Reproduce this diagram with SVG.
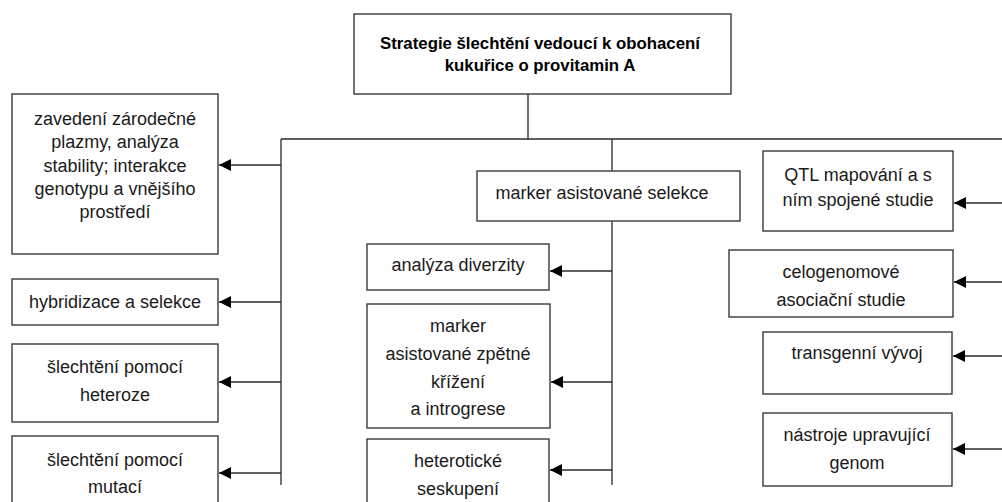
<svg xmlns="http://www.w3.org/2000/svg" width="1002" height="502" viewBox="0 0 1002 502">
<defs>
<marker id="ah" markerUnits="userSpaceOnUse" markerWidth="13" markerHeight="12" refX="12" refY="6" orient="auto">
<path d="M0,0 L12,6 L0,12 z" fill="#000"/>
</marker>
<style>
.box{fill:#fff;stroke:#3a3a3a;stroke-width:1.4}
.t{font-family:"Liberation Sans",Arial,sans-serif;font-size:18px;fill:#1a1a1a;text-anchor:middle}
.tb{font-family:"Liberation Sans",Arial,sans-serif;font-size:16.8px;font-weight:bold;fill:#000;text-anchor:middle}
.ln{fill:none;stroke:#2a2a2a;stroke-width:1.3}
.ar{fill:none;stroke:#2a2a2a;stroke-width:1.3;marker-end:url(#ah)}
</style>
</defs>
<rect width="1002" height="502" fill="#fff"/>
<g id="connectors">
<path class="ln" d="M528,94 V139 M281,139 H1002 M281,139 V485 M612,139 V171 M612,221 V485"/>
<path class="ar" d="M281,165 H219"/>
<path class="ar" d="M281,302 H219"/>
<path class="ar" d="M281,382 H219"/>
<path class="ar" d="M281,473 H219"/>
<path class="ar" d="M612,271 H550"/>
<path class="ar" d="M612,382 H551"/>
<path class="ar" d="M612,470 H550"/>
<path class="ar" d="M1002,203 H954"/>
<path class="ar" d="M1002,282 H954"/>
<path class="ar" d="M1002,356 H953"/>
<path class="ar" d="M1002,449 H953"/>
</g>
<g id="root">
<rect class="box" x="354" y="14" width="377" height="80"/>
<text class="tb" x="540" y="49">Strategie šlechtění vedoucí k obohacení</text>
<text class="tb" x="540" y="71">kukuřice o provitamin A</text>
</g>
<g id="n-zavedeni">
<rect class="box" x="12" y="94" width="206" height="160"/>
<text class="t" x="115" y="125">zavedení zárodečné</text>
<text class="t" x="115" y="148">plazmy, analýza</text>
<text class="t" x="115" y="172">stability; interakce</text>
<text class="t" x="115" y="195">genotypu a vnějšího</text>
<text class="t" x="115" y="218">prostředí</text>
</g>
<g id="n-hybridizace">
<rect class="box" x="12" y="279" width="206" height="46"/>
<text class="t" x="115" y="308">hybridizace a selekce</text>
</g>
<g id="n-heteroze">
<rect class="box" x="12" y="344" width="206" height="78"/>
<text class="t" x="115" y="373">šlechtění pomocí</text>
<text class="t" x="115" y="401">heteroze</text>
</g>
<g id="n-mutace">
<rect class="box" x="12" y="436" width="206" height="80"/>
<text class="t" x="115" y="466">šlechtění pomocí</text>
<text class="t" x="115" y="493">mutací</text>
</g>
<g id="n-mas">
<rect class="box" x="477" y="171" width="263" height="50"/>
<text class="t" x="602" y="199">marker asistované selekce</text>
</g>
<g id="n-diverzita">
<rect class="box" x="367" y="244" width="182" height="46"/>
<text class="t" x="458" y="271">analýza diverzity</text>
</g>
<g id="n-zpetne">
<rect class="box" x="367" y="304" width="183" height="124"/>
<text class="t" x="458" y="332">marker</text>
<text class="t" x="458" y="360">asistované zpětné</text>
<text class="t" x="458" y="388">křížení</text>
<text class="t" x="458" y="415">a introgrese</text>
</g>
<g id="n-heteroticke">
<rect class="box" x="367" y="439" width="182" height="80"/>
<text class="t" x="458" y="467">heterotické</text>
<text class="t" x="458" y="495">seskupení</text>
</g>
<g id="n-qtl">
<rect class="box" x="763" y="151" width="190" height="80"/>
<text class="t" x="858" y="181">QTL mapování a s</text>
<text class="t" x="858" y="206">ním spojené studie</text>
</g>
<g id="n-gwas">
<rect class="box" x="729" y="250" width="224" height="67"/>
<text class="t" x="841" y="278">celogenomové</text>
<text class="t" x="841" y="306">asociační studie</text>
</g>
<g id="n-transgen">
<rect class="box" x="763" y="332" width="189" height="62"/>
<text class="t" x="857" y="359">transgenní vývoj</text>
</g>
<g id="n-editace">
<rect class="box" x="763" y="413" width="189" height="73"/>
<text class="t" x="857" y="441">nástroje upravující</text>
<text class="t" x="857" y="469">genom</text>
</g>
</svg>
